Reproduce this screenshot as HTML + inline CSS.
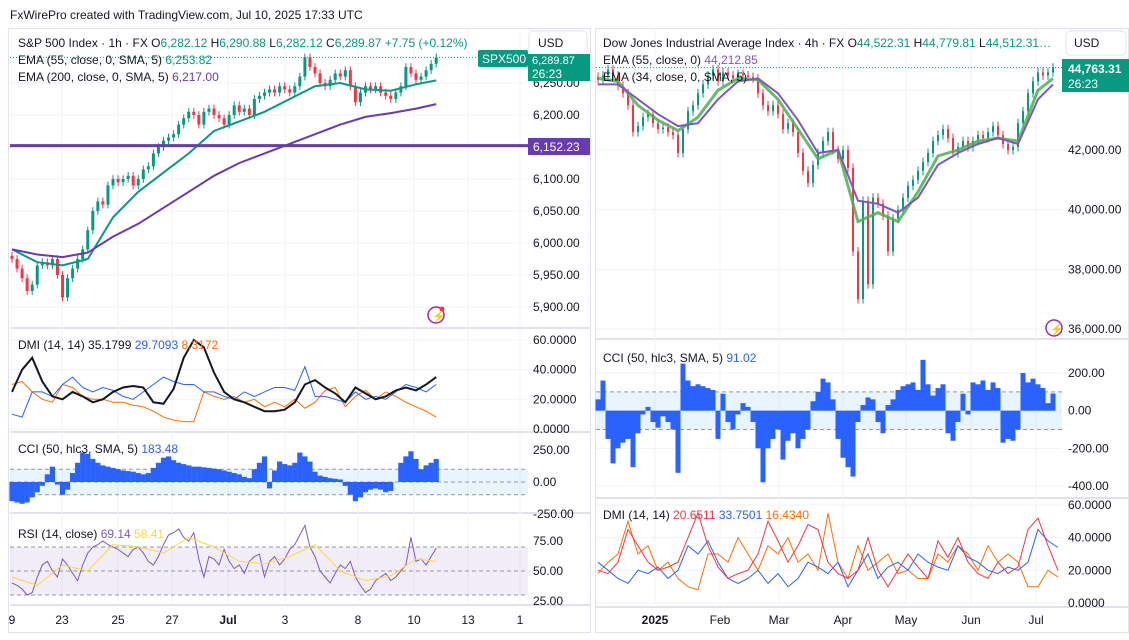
<!DOCTYPE html>
<html><head><meta charset="utf-8">
<style>
body{margin:0;background:#fff;width:1129px;height:635px;overflow:hidden;font-family:"Liberation Sans",sans-serif;}
svg text{font-family:"Liberation Sans",sans-serif;}
</style></head>
<body>
<svg id="c" width="1129" height="635" viewBox="0 0 1129 635" xmlns="http://www.w3.org/2000/svg">
<rect x="0" y="0" width="1129" height="635" fill="#fff"/>
<text x="10" y="19" font-size="12" fill="#131722">FxWirePro created with TradingView.com, Jul 10, 2025 17:33 UTC</text>
<rect x="8.5" y="28.5" width="582" height="604" fill="none" stroke="#e0e3eb"/>
<rect x="595.5" y="28.5" width="533" height="604" fill="none" stroke="#e0e3eb"/>
<g id="grid"></g>
<g id="marks"></g>
<g id="labels"></g>
</svg>
<script>
// ---------- LEFT: S&P 500 1h ----------
const spxClose=[5975,5960,5945,5925,5935,5965,5970,5965,5975,5950,5915,5945,5960,5975,5990,6020,6050,6065,6060,6090,6100,6095,6100,6105,6090,6100,6115,6120,6140,6150,6160,6165,6170,6185,6195,6205,6200,6185,6205,6210,6200,6195,6185,6200,6215,6205,6210,6200,6225,6230,6235,6240,6235,6245,6240,6235,6245,6260,6290,6275,6265,6250,6245,6255,6265,6260,6270,6245,6220,6235,6245,6240,6245,6235,6230,6225,6235,6245,6275,6265,6255,6260,6270,6280,6290];
const spxEma55=[5990,5970,5965,5975,6040,6080,6110,6140,6175,6190,6205,6225,6245,6250,6240,6238,6248,6254];
const spxEma200=[5990,5982,5978,5985,6010,6030,6055,6080,6105,6125,6140,6155,6170,6185,6197,6203,6210,6217];
const spxLevel=6152.23;
const spxTicks=[6250,6200,6100,6050,6000,5950,5900];
const adxL=[25,40,48,32,22,20,25,22,18,20,25,28,29,28,18,17,27,48,60,55,38,25,20,18,15,12,12,13,18,30,33,28,24,18,28,24,20,22,26,28,26,30,35];
const pdiL=[10,8,25,25,22,30,35,28,25,28,26,22,20,25,30,35,32,30,30,25,25,22,20,25,22,25,28,28,26,42,22,22,20,18,25,20,22,20,25,30,28,25,30];
const mdiL=[30,32,25,20,18,30,28,22,20,20,18,18,16,15,12,8,6,5,5,25,22,20,22,18,20,15,18,15,20,14,18,26,28,15,22,26,20,25,22,18,15,12,8];
const dmiTicksL=[60,40,20,0];
const cciL=[-150,-160,-170,-160,-120,-80,-30,60,120,-20,-100,-60,70,150,230,220,180,150,130,120,110,100,90,85,80,70,60,70,110,150,190,200,170,150,140,130,120,120,115,110,105,100,90,80,70,60,40,30,100,150,200,-50,90,160,140,130,150,230,200,160,80,50,40,30,25,20,-30,-100,-150,-120,-80,-60,-50,-60,-80,-70,0,150,200,240,180,100,130,150,180];
const cciTicksL=[250,0,-250];
const rsiL=[40,38,35,30,32,45,55,58,50,45,60,55,48,42,55,65,70,72,75,72,70,68,65,62,68,70,65,58,55,62,72,80,82,85,78,75,82,60,45,62,60,55,68,58,52,55,48,58,62,64,45,58,62,55,60,68,72,80,88,70,62,50,45,40,48,55,52,58,45,38,32,35,42,45,48,42,45,50,55,78,58,60,55,62,69];
const rsiMaL=[45,38,55,50,72,70,65,78,70,58,56,62,72,50,42,46,60,58];
const rsiTicks=[75,50,25];
const xLabelsL=["9","23","25","27","Jul","3","8","10","13","1"];
const xLabelPosL=[12,62,118,172,228,285,358,414,468,520];

// ---------- RIGHT: Dow Jones 4h ----------
const djiClose=[44350,44500,44700,44500,44150,43900,43500,42600,42800,43100,43200,42900,42700,42750,42600,42500,41900,42700,43300,43500,43900,44200,44500,44700,44300,44600,44500,44400,44550,44500,44450,44400,43900,43500,43300,43500,43200,42700,42900,42600,41900,41300,40900,41500,41900,42300,42600,42000,41700,42000,41400,38600,37000,40300,37500,40400,40200,39800,38600,39700,40000,40400,40800,41000,41300,41600,41900,42300,42500,42700,42400,41900,42100,42300,42100,42300,42500,42400,42600,42800,42500,42200,42000,42100,42900,43300,43900,44300,44600,44500,44600,44763];
const djiGreen=[44400,44300,43500,43000,42650,43100,44000,44400,44350,43700,42700,41700,42000,39600,39900,39600,40600,41800,42000,42300,42400,42300,44000,44400];
const djiPurple=[44200,44200,43700,43200,42800,42900,43700,44300,44400,43900,43000,41900,42000,40300,40200,39900,40400,41500,41900,42200,42400,42200,43700,44200];
const djiTicks=[42000,40000,38000,36000];
const cciR=[60,160,-150,-280,-200,-170,-150,-300,-120,-20,20,-60,-90,-30,-60,-100,-330,250,160,130,140,130,120,110,-150,90,-60,-100,-20,40,20,-60,-200,-380,-200,-150,-100,-260,-160,-120,-200,-150,-100,50,100,170,150,60,-150,-250,-300,-350,-60,30,70,60,-60,-120,30,60,110,130,140,150,110,270,140,80,120,140,-120,-160,-60,90,-20,150,140,160,110,150,120,-170,-150,-160,-100,200,150,170,140,120,40,91];
const cciTicksR=[200,0,-200,-400];
const redR=[20,18,25,45,35,25,20,22,25,40,55,35,22,15,18,20,30,50,38,25,35,48,45,25,18,15,20,40,20,10,20,30,22,15,38,28,40,25,18,15,25,18,22,45,52,35,20];
const blueR=[25,20,15,12,20,18,22,15,20,35,30,38,25,15,12,15,20,12,18,10,15,25,22,18,25,10,20,30,15,22,25,20,30,25,22,20,35,28,25,20,18,22,20,25,45,38,34];
const orangeR=[18,25,30,50,30,35,20,25,15,10,8,30,30,25,40,30,20,35,30,40,25,30,20,55,25,15,35,20,25,30,18,20,15,15,30,25,35,30,20,35,25,30,25,10,10,20,16];
const dmiTicksR=[60,40,20,0];
const xLabelsR=["2025","Feb","Mar","Apr","May","Jun","Jul"];
const xLabelPosR=[655,720,779,843,906,971,1036];

const NS="http://www.w3.org/2000/svg";
const G=document.getElementById('grid'),M=document.getElementById('marks'),L=document.getElementById('labels');
function mk(tag,parent,attrs){const e=document.createElementNS(NS,tag);for(const k in attrs)e.setAttribute(k,attrs[k]);parent.appendChild(e);return e;}
function lin(d0,d1,r0,r1){return v=>r0+(v-d0)/(d1-d0)*(r1-r0);}
function fmt(v,dec){return v.toLocaleString('en-US',{minimumFractionDigits:dec,maximumFractionDigits:dec});}

const xL=i=>12+i*5.05;
const yP=lin(6250,5900,83,307);
const yDL=lin(60,0,340,429);
const yCL=lin(250,-250,450,514);
const yRL=lin(75,25,541,601);
const xR=i=>598+i*5;
const yPR=lin(42000,36000,150,329);
const yCR=lin(200,-400,373,486);
const yDR=lin(60,0,505,603);

[[10,590,328],[10,590,432],[10,590,513],[10,590,605]].forEach(s=>{const e=mk('line',G,{x1:s[0],x2:s[1],y1:s[2],y2:s[2],stroke:'#e0e3eb','stroke-width':2});
});
[[596,1129,339],[596,1129,498],[596,1129,607]].forEach(s=>{const e=mk('line',G,{x1:s[0],x2:s[1],y1:s[2],y2:s[2],stroke:'#e0e3eb','stroke-width':2});
});
xLabelPosL.forEach(x=>{const e=mk('line',G,{x1:x,x2:x,y1:30,y2:605,stroke:'#f0f3fa'});});
xLabelPosR.forEach(x=>{const e=mk('line',G,{x1:x,x2:x,y1:30,y2:607,stroke:'#f0f3fa'});});

function hgrid(y,x1,x2){const e=mk('line',G,{x1:x1,x2:x2,y1:y,y2:y,stroke:'#f0f3fa'});}
function axLabel(x,y,t){const e=mk('text',L,{x:x,y:y+4,'font-size':12,fill:'#131722'});e.textContent=t;}

spxTicks.forEach(v=>{hgrid(yP(v),10,528);axLabel(533,yP(v),fmt(v,2));});
spxClose.forEach((c,i)=>{const o=i?spxClose[i-1]:c+5;const up=c>=o;const col=up?'#089981':'#f23645';
const x=xL(i);const hi=Math.max(o,c)+6,lo=Math.min(o,c)-6;
const w=mk('line',M,{x1:x,x2:x,y1:yP(hi),y2:yP(lo),stroke:col});
const b=mk('rect',M,{x:x-1.5,y:Math.min(yP(o),yP(c)),width:3,height:Math.max(1,Math.abs(yP(o)-yP(c))),fill:col});});
function pathFrom(arr,xf,yf,step){return arr.map((v,k)=>{let i=k*step;if(k===arr.length-1&&step>1)i=Math.min(i,(step===5?84:91));return (k?'L':'M')+xf(i).toFixed(1)+','+yf(v).toFixed(1);}).join('');}
let p;
p=mk('path',M,{d:pathFrom(spxEma55,xL,yP,5),fill:'none',stroke:'#089981','stroke-width':2});
p=mk('path',M,{d:pathFrom(spxEma200,xL,yP,5),fill:'none',stroke:'#673ab7','stroke-width':2});
p=mk('line',M,{x1:10,x2:528,y1:yP(spxLevel),y2:yP(spxLevel),stroke:'#673ab7','stroke-width':3});
p=mk('line',M,{x1:10,x2:528,y1:yP(spxClose[84]),y2:yP(spxClose[84]),stroke:'#089981','stroke-dasharray':'1,2'});

dmiTicksL.forEach(v=>{hgrid(yDL(v),10,528);axLabel(533,yDL(v),fmt(v,4));});
p=mk('path',M,{d:pathFrom(mdiL,xL,yDL,2),fill:'none',stroke:'#ff6d00','stroke-width':1});
p=mk('path',M,{d:pathFrom(pdiL,xL,yDL,2),fill:'none',stroke:'#2962ff','stroke-width':1});
p=mk('path',M,{d:pathFrom(adxL,xL,yDL,2),fill:'none',stroke:'#131722','stroke-width':2});

cciTicksL.forEach(v=>{axLabel(533,yCL(v),fmt(v,2));});
p=mk('rect',M,{x:10,y:yCL(100),width:518,height:yCL(-100)-yCL(100),fill:'rgba(33,150,243,0.1)'});
[100,0,-100].forEach(v=>{const e=mk('line',M,{x1:10,x2:528,y1:yCL(v),y2:yCL(v),stroke:'#9598a1','stroke-dasharray':'4,3'});});
cciL.forEach((v,i)=>{const y0=yCL(0),y1=yCL(v);const e=mk('rect',M,{x:xL(i)-2.6,y:Math.min(y0,y1),width:5.2,height:Math.abs(y1-y0),fill:'#2962ff'});});

rsiTicks.forEach(v=>{axLabel(533,yRL(v),fmt(v,2));});
p=mk('rect',M,{x:10,y:yRL(70),width:518,height:yRL(30)-yRL(70),fill:'rgba(126,87,194,0.1)'});
[70,50,30].forEach(v=>{const e=mk('line',M,{x1:10,x2:528,y1:yRL(v),y2:yRL(v),stroke:'#9598a1','stroke-dasharray':'4,3'});});
p=mk('path',M,{d:pathFrom(rsiL,xL,yRL,1),fill:'none',stroke:'#7e57c2','stroke-width':1});
p=mk('path',M,{d:pathFrom(rsiMaL,xL,yRL,5),fill:'none',stroke:'#fdd835','stroke-width':1});

xLabelsL.forEach((t,k)=>{const e=mk('text',L,{x:xLabelPosL[k],y:624,'font-size':12,fill:'#131722','text-anchor':'middle','font-weight':t==='Jul'?'bold':'normal'});e.textContent=t;});

djiTicks.forEach(v=>{hgrid(yPR(v),596,1062);axLabel(1068,yPR(v),fmt(v,2));});
hgrid(yPR(44000),596,1062);
djiClose.forEach((c,i)=>{const o=i?djiClose[i-1]:c+100;const up=c>=o;const col=up?'#089981':'#f23645';
const x=xR(i);const hi=Math.max(o,c)+150,lo=Math.min(o,c)-150;
const w=mk('line',M,{x1:x,x2:x,y1:yPR(hi),y2:yPR(lo),stroke:col});
const b=mk('rect',M,{x:x-1,y:Math.min(yPR(o),yPR(c)),width:2,height:Math.max(1,Math.abs(yPR(o)-yPR(c))),fill:col});});
p=mk('path',M,{d:pathFrom(djiGreen,xR,yPR,4),fill:'none',stroke:'#4caf50','stroke-width':3,'stroke-opacity':0.85});
p=mk('path',M,{d:pathFrom(djiPurple,xR,yPR,4),fill:'none',stroke:'#7e57c2','stroke-width':2});
p=mk('line',M,{x1:596,x2:1062,y1:yPR(djiClose[91]),y2:yPR(djiClose[91]),stroke:'#089981','stroke-dasharray':'1,2'});

cciTicksR.forEach(v=>{hgrid(yCR(v),596,1062);axLabel(1068,yCR(v),fmt(v,2));});
p=mk('rect',M,{x:596,y:yCR(100),width:466,height:yCR(-100)-yCR(100),fill:'rgba(33,150,243,0.1)'});
[100,-100].forEach(v=>{const e=mk('line',M,{x1:596,x2:1062,y1:yCR(v),y2:yCR(v),stroke:'#9598a1','stroke-dasharray':'4,3'});});
cciR.forEach((v,i)=>{const y0=yCR(0),y1=yCR(v);const e=mk('rect',M,{x:xR(i)-2.5,y:Math.min(y0,y1),width:5,height:Math.abs(y1-y0),fill:'#2962ff'});});

dmiTicksR.forEach(v=>{hgrid(yDR(v),596,1062);axLabel(1068,yDR(v),fmt(v,4));});
const xR2=j=>598+j*10;
function pathR(arr,yf){return arr.map((v,j)=>(j?'L':'M')+xR2(j)+','+yf(v).toFixed(1)).join('');}
p=mk('path',M,{d:pathR(orangeR,yDR),fill:'none',stroke:'#ff6d00','stroke-width':1});
p=mk('path',M,{d:pathR(blueR,yDR),fill:'none',stroke:'#2962ff','stroke-width':1});
p=mk('path',M,{d:pathR(redR,yDR),fill:'none',stroke:'#f23645','stroke-width':1});

xLabelsR.forEach((t,k)=>{const e=mk('text',L,{x:xLabelPosR[k],y:624,'font-size':12,fill:'#131722','text-anchor':'middle','font-weight':t==='2025'?'bold':'normal'});e.textContent=t;});
</script>
<svg width="1129" height="635" style="position:absolute;left:0;top:0" xmlns="http://www.w3.org/2000/svg">
<g font-size="12" fill="#131722">
<text x="18" y="47">S&amp;P 500 Index · 1h · FX  O<tspan fill="#089981">6,282.12</tspan>  H<tspan fill="#089981">6,290.88</tspan>  L<tspan fill="#089981">6,282.12</tspan>  C<tspan fill="#089981">6,289.87</tspan>  <tspan fill="#089981">+7.75 (+0.12%)</tspan></text>
<text x="18" y="64">EMA (55, close, 0, SMA, 5)  <tspan fill="#089981">6,253.82</tspan></text>
<text x="18" y="81">EMA (200, close, 0, SMA, 5)  <tspan fill="#673ab7">6,217.00</tspan></text>
<text x="18" y="349">DMI (14, 14)  35.1799  <tspan fill="#2962ff">29.7093</tspan>  <tspan fill="#ff6d00">8.3172</tspan></text>
<text x="18" y="453">CCI (50, hlc3, SMA, 5)  <tspan fill="#2962ff">183.48</tspan></text>
<text x="18" y="538">RSI (14, close)  <tspan fill="#7e57c2">69.14</tspan>  <tspan fill="#fdd835">58.41</tspan></text>
<text x="603" y="47">Dow Jones Industrial Average Index · 4h · FX  O<tspan fill="#089981">44,522.31</tspan>  H<tspan fill="#089981">44,779.81</tspan>  L<tspan fill="#089981">44,512.31…</tspan></text>
<text x="603" y="64">EMA (55, close, 0)  <tspan fill="#7e57c2">44,212.85</tspan></text>
<text x="603" y="81">EMA (34, close, 0, SMA, 5)</text>
<text x="603" y="362">CCI (50, hlc3, SMA, 5)  <tspan fill="#2962ff">91.02</tspan></text>
<text x="603" y="519">DMI (14, 14)  <tspan fill="#f23645">20.6511</tspan>  <tspan fill="#2962ff">33.7501</tspan>  <tspan fill="#ff6d00">16.4340</tspan></text>
</g>
<rect x="529" y="31" width="58" height="24" rx="4" fill="#fff" stroke="#e0e3eb"/>
<text x="538" y="47" font-size="12" fill="#131722">USD</text>
<rect x="1066" y="31" width="60" height="24" rx="4" fill="#fff" stroke="#e0e3eb"/>
<text x="1074" y="47" font-size="12" fill="#131722">USD</text>
<rect x="478" y="50" width="50" height="17" rx="2" fill="#089981"/>
<text x="482" y="63" font-size="12" fill="#fff">SPX500</text>
<rect x="528" y="54" width="62" height="27" fill="#089981"/>
<text x="532" y="64" font-size="11" fill="#fff">6,289.87</text>
<text x="532" y="78" font-size="12" fill="#fff">26:23</text>
<rect x="528" y="138" width="62" height="17" fill="#673ab7"/>
<text x="533" y="151" font-size="12" fill="#fff">6,152.23</text>
<rect x="1062" y="59" width="67" height="33" fill="#089981"/>
<text x="1068" y="73" font-size="12" fill="#fff" font-weight="bold">44,763.31</text>
<text x="1068" y="88" font-size="12" fill="#fff">26:23</text>
<g><circle cx="436" cy="315" r="8" fill="none" stroke="#9c27b0" stroke-width="1.5"/><text x="432" y="320" font-size="11" fill="#9c27b0">⚡</text><circle cx="442" cy="309" r="2.5" fill="#f23645"/></g>
<g><circle cx="1054" cy="328" r="8" fill="none" stroke="#9c27b0" stroke-width="1.5"/><text x="1050" y="333" font-size="11" fill="#9c27b0">⚡</text></g>
</svg>
</body></html>
